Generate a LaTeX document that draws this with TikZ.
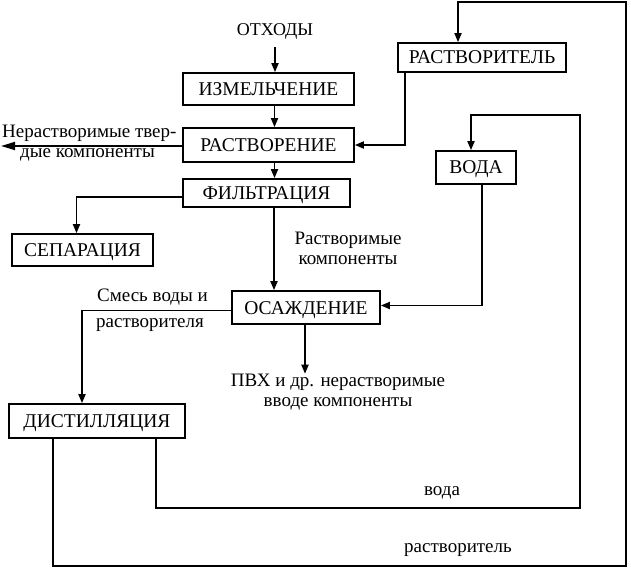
\documentclass[tikz,border=0pt]{standalone}
\usepackage{fontspec}
\setmainfont{Liberation Serif}
\usetikzlibrary{arrows.meta,positioning}

\begin{document}
\begin{tikzpicture}[
  x=1pt, y=-1pt,
  font=\fontsize{19.5}{21}\selectfont,
  bx/.style={draw, line width=1.7pt, inner sep=0pt, align=center,
             text height=13pt, text depth=0pt},
  lbl/.style={font=\fontsize{19}{20}\selectfont, inner sep=0pt},
  a/.style={line width=1.7pt, -{Triangle[length=9pt,width=7pt]}},
  big/.style={line width=1.7pt, -{Triangle[length=14pt,width=8pt]}}
]
\useasboundingbox (0,0) rectangle (631,569);

% ================= main column =================
\node[inner sep=0pt, font=\fontsize{18}{20}\selectfont] (otx) at (275,31) {ОТХОДЫ};
\node[bx, minimum width=171pt, minimum height=32pt] (izm) at (268.5,89) {ИЗМЕЛЬЧЕНИЕ};
\node[bx, minimum width=171pt, minimum height=34pt] (rast) at (268.5,145) {РАСТВОРЕНИЕ};
\node[bx, minimum width=167pt, minimum height=28pt] (filt) at (266.5,193) {ФИЛЬТРАЦИЯ};
\node[bx, minimum width=141pt, minimum height=32pt] (sep) at (82.5,250) {СЕПАРАЦИЯ};
\node[bx, minimum width=148pt, minimum height=33pt] (osa) at (306,307.5) {ОСАЖДЕНИЕ};
\node[bx, minimum width=176pt, minimum height=34pt] (dist) at (97,421) {ДИСТИЛЛЯЦИЯ};

% ================= recycled streams =================
\node[bx, minimum width=168pt, minimum height=29pt] (rv) at (482,57.5) {РАСТВОРИТЕЛЬ};
\node[bx, minimum width=80pt, minimum height=33pt] (voda) at (476,167.5) {ВОДА};

% ================= labels =================
\node[lbl, anchor=west] (ins1) at (2,133) {Нерастворимые твер-};
\node[lbl, anchor=west] (ins2) at (20,155) {дые компоненты};
\node[lbl, align=center] (sol) at (348,248) {Растворимые\\компоненты};
\node[lbl, anchor=west] (mix1) at (97,297) {Смесь воды и};
\node[lbl, anchor=west] (mix2) at (96,325) {растворителя};
\node[lbl, align=center] (pvc) at (338,392) {ПВХ и др. нерастворимые\\вводе компоненты};
\node[lbl] (wlab) at (442,493) {вода};
\node[lbl] (slab) at (458,550) {растворитель};

\coordinate (insol) at (1,146);
\coordinate (wret) at (580,508);
\coordinate (wtop) at (580,115);
\coordinate (sret) at (626,566);
\coordinate (stop) at (626,2);

% ================= primary flow =================
\draw[a] ([yshift=-8pt]otx.south) -- (otx.south |- izm.north);
\draw[a] ([xshift=6pt]izm.south) -- ([xshift=6pt]rast.north);
\draw[a] ([xshift=6pt]rast.south) -- ([xshift=6pt]rast.south |- filt.north);
\draw[big] ([yshift=-1pt]rast.west) -- (insol);
\draw[a] ([yshift=-4pt]filt.west) -| ([xshift=-6pt]sep.north);
\draw[a] ([xshift=7.5pt]filt.south) -- ([xshift=7.5pt]filt.south |- osa.north);
\draw[a] ([yshift=-3pt]osa.west) -| ([xshift=-15pt]dist.north);
\draw[a] ([xshift=-1pt]osa.south) -- ([xshift=-1pt]osa.south |- pvc.north);

% ================= returns =================
\draw[a] ([xshift=-77pt]rv.south) |- (rast.east);
\draw[a] ([xshift=6pt]voda.south) |- ([yshift=2pt]osa.east);
% water back from the still
\draw[a] ([xshift=59pt]dist.south) |- (wret) -- (wtop) -| ([xshift=-5pt]voda.north);
% solvent back from the still
\draw[a] ([xshift=-44pt]dist.south) |- (sret) -- (stop) -| ([xshift=-24pt]rv.north);
\end{tikzpicture}
\end{document}
